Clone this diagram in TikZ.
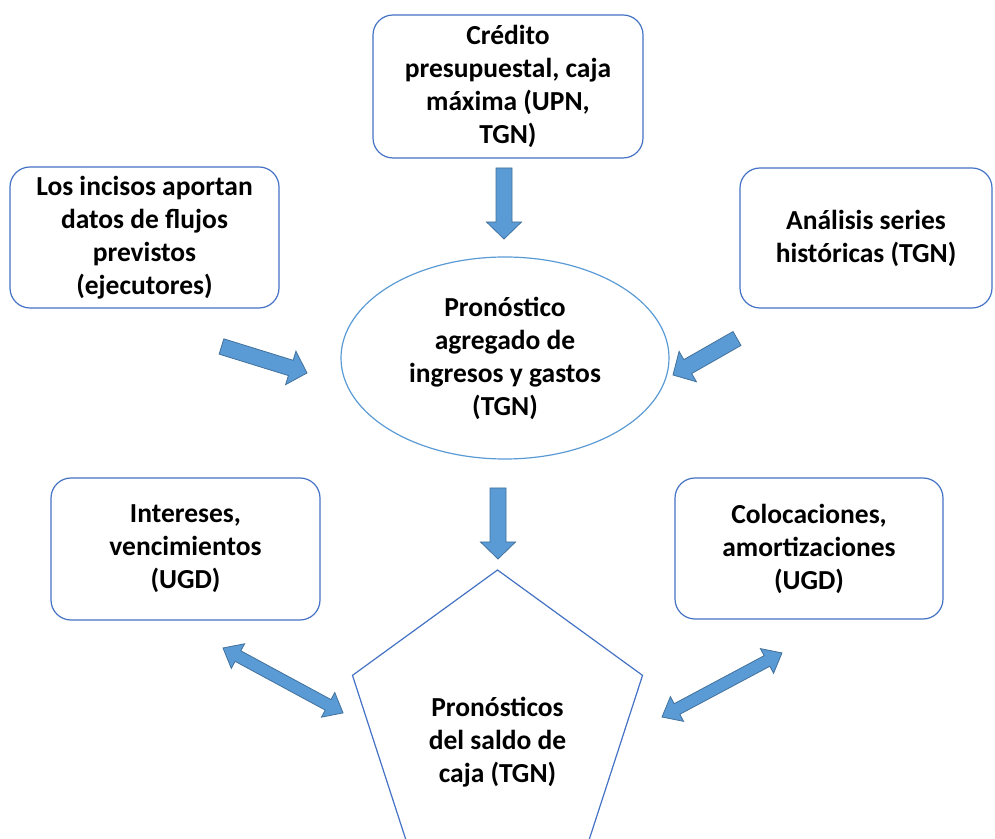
\documentclass[tikz,border=0pt]{standalone}
\usepackage{fontspec}
\setmainfont{Carlito}
\usetikzlibrary{shapes.geometric}
\definecolor{boxblue}{HTML}{4472C4}
\definecolor{lightblue}{HTML}{5B9BD5}
\definecolor{arrowfill}{HTML}{5B9BD5}
\definecolor{arrowline}{HTML}{41719C}
\tikzset{
  txt/.style={align=center, font=\fontsize{27.5}{33}\selectfont\bfseries, text=black},
  rbox/.style={txt, draw=boxblue, line width=1.2pt, rounded corners=20pt, fill=white, inner sep=0pt},
  oval/.style={txt, ellipse, draw=lightblue, line width=1.2pt, inner sep=0pt},
  pent/.style={regular polygon, regular polygon sides=5, draw=boxblue, line width=1.2pt, inner sep=0pt},
  blockarrow/.style={fill=arrowfill, draw=arrowline, line width=0.8pt, line join=miter},
}
\newcommand\singlearrow[4]{%
  \draw[blockarrow, shift={(#1,#2)}, rotate=#3]
    (0,-8) -- (#4-17,-8) -- (#4-17,-17.5) -- (#4,0) -- (#4-17,17.5) -- (#4-17,8) -- (0,8) -- cycle;}
\newcommand\doublearrow[4]{%
  \draw[blockarrow, shift={(#1,#2)}, rotate=#3]
    (0,0) -- (17,14) -- (17,6) -- (#4-17,6) -- (#4-17,14) -- (#4,0) -- (#4-17,-14) -- (#4-17,-6) -- (17,-6) -- (17,-14) -- cycle;}
\begin{document}
\begin{tikzpicture}[x=1pt,y=1pt]
\useasboundingbox (0,0) rectangle (995,838);
\clip (0,0) rectangle (995,838);
\fill[white] (0,0) rectangle (995,838);

\node[rbox, minimum width=270pt, minimum height=143pt] (credito) at (508,751.5)
  {Crédito\\presupuestal, caja\\máxima (UPN,\\TGN)};
\node[rbox, minimum width=269pt, minimum height=141pt] (incisos) at (144.5,600.5)
  {Los incisos aportan\\datos de flujos\\previstos\\(ejecutores)};
\node[rbox, minimum width=252pt, minimum height=140pt] (series) at (866,600)
  {Análisis series\\históricas (TGN)};
\node[oval, minimum width=328pt, minimum height=202pt] (agregado) at (505,480)
  {Pronóstico\\agregado de\\ingresos y gastos\\(TGN)};
\node[rbox, minimum width=269pt, minimum height=142pt] (intereses) at (185.5,289)
  {Intereses,\\vencimientos\\(UGD)};
\node[rbox, minimum width=268pt, minimum height=141pt] (colocaciones) at (809,289.5)
  {Colocaciones,\\amortizaciones\\(UGD)};
\node[pent, minimum size=305pt] (saldo) at (497.5,115.5) {};
\node[txt] (saldotxt) at (497.5,96) {Pronósticos\\del saldo de\\caja (TGN)};

\singlearrow{504}{670}{-90}{71}
\singlearrow{498}{350}{-90}{71}
\singlearrow{221.5}{491.5}{-17.2}{89.5}
\singlearrow{737}{499.5}{209.7}{73.7}
\doublearrow{223}{190}{-28.4}{136.5}
\doublearrow{662}{121}{28.1}{136}
\end{tikzpicture}
\end{document}
